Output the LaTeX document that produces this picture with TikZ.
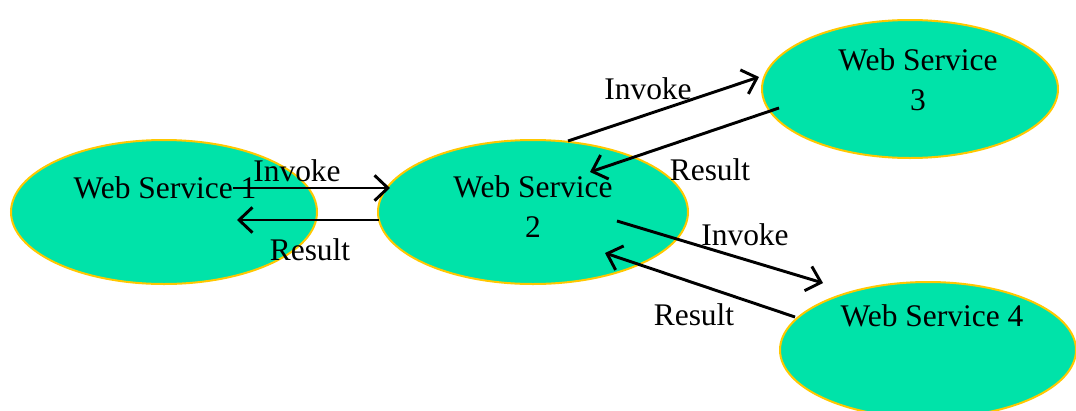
\documentclass[tikz,border=0pt]{standalone}
\usepackage{fontspec}
\setmainfont{Liberation Serif}
\usetikzlibrary{shapes.geometric,arrows.meta}
\definecolor{wsfill}{HTML}{00E3A9}
\definecolor{wsline}{HTML}{FFC800}
\begin{document}
\begin{tikzpicture}[x=0.75pt,y=-0.75pt,
  wsbox/.style={ellipse,draw=wsline,fill=wsfill,line width=1.5pt,inner sep=0pt},
  wstext/.style={font=\fontsize{23.6}{30}\selectfont,align=center,inner sep=0pt},
  lbl/.style={font=\fontsize{23.6}{30}\selectfont,inner sep=0pt},
  conn/.style={line width=2.2pt,-{Straight Barb[length=10pt,width=19pt,line width=2.2pt]}}]
\useasboundingbox (0,0) rectangle (1076,411);
\node[wsbox,minimum width=229.5pt,minimum height=108pt] (ws1) at (164,212) {};
\node[wsbox,minimum width=232.5pt,minimum height=108pt] (ws2) at (533,212) {};
\node[wsbox,minimum width=222pt,minimum height=103.5pt] (ws3) at (910,89) {};
\node[wsbox,minimum width=222pt,minimum height=102pt] (ws4) at (928,350) {};
\node[wstext] (t1) at (165,188) {Web Service 1};
\node[wstext,anchor=base] (t2) at (533,237) {Web Service\\2};
\node[wstext,anchor=base] (t3) at (918,110) {Web Service\\3};
\node[wstext] (t4) at (932,316) {Web Service 4};
% endpoints
\coordinate (a1s) at (233,188); \coordinate (a1e) at (390,188);
\coordinate (a2s) at (379,220); \coordinate (a2e) at (237,220);
\coordinate (a3s) at (568,141); \coordinate (a3e) at (759,77);
\coordinate (a4s) at (779,108); \coordinate (a4e) at (590,172);
\coordinate (a5s) at (617,221); \coordinate (a5e) at (823,283);
\coordinate (a6s) at (795,317); \coordinate (a6e) at (605,253);
\draw[conn] (a1s) -- (a1e);
\draw[conn] (a2s) -- (a2e);
\draw[conn] (a3s) -- (a3e);
\draw[conn] (a4s) -- (a4e);
\draw[conn] (a5s) -- (a5e);
\draw[conn] (a6s) -- (a6e);
\node[lbl] (l1) at (297,171) {Invoke};
\node[lbl] (l2) at (310,250) {Result};
\node[lbl] (l3) at (648,89) {Invoke};
\node[lbl] (l4) at (710,170) {Result};
\node[lbl] (l5) at (745,235) {Invoke};
\node[lbl] (l6) at (694,315) {Result};
\end{tikzpicture}
\end{document}
